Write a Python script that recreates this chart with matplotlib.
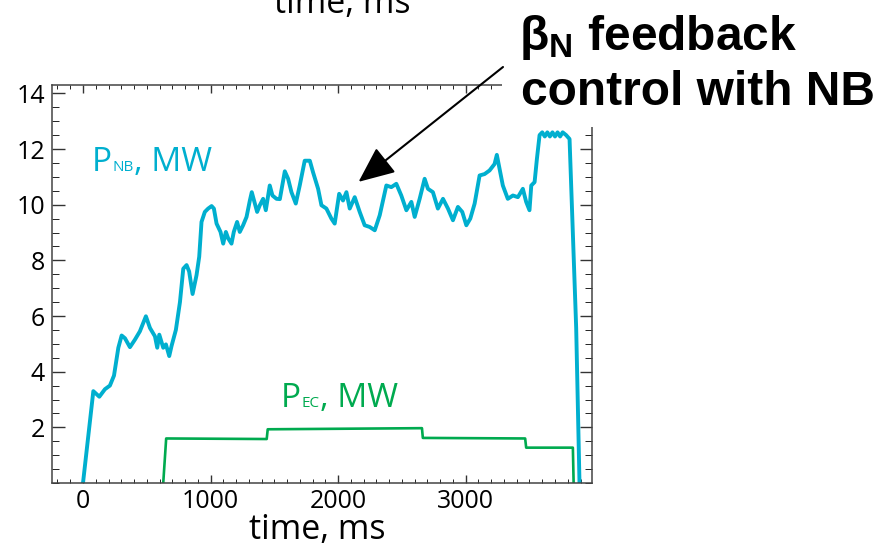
import matplotlib
matplotlib.use('agg')
import matplotlib.pyplot as plt
from matplotlib.patches import Rectangle, ConnectionPatch
from matplotlib.ticker import MultipleLocator

plt.rcParams['font.family'] = ['Open Sans', 'DejaVu Sans']
plt.rcParams['mathtext.fontset'] = 'custom'
plt.rcParams['mathtext.bf'] = 'Liberation Sans:bold'
plt.rcParams['mathtext.rm'] = 'Liberation Sans:bold'

# P_NB trace (time in ms, power in MW)
nb_time = [0, 81, 128, 172, 211, 243, 277, 303, 329, 368, 407, 446, 472, 493,
           525, 564, 582, 598, 629, 650, 676, 694, 728, 760, 786, 812, 832,
           859, 890, 911, 929, 955, 981, 1008, 1026, 1047, 1078, 1099, 1120,
           1138, 1164, 1182, 1208, 1229, 1255, 1282, 1308, 1323, 1347, 1365,
           1386, 1412, 1433, 1464, 1485, 1517, 1543, 1582, 1608, 1634, 1668,
           1699, 1738, 1778, 1803, 1843, 1869, 1908, 1947, 1973, 2008, 2038,
           2065, 2091, 2130, 2169, 2208, 2247, 2287, 2326, 2378, 2417, 2456,
           2495, 2535, 2574, 2600, 2639, 2678, 2704, 2743, 2782, 2822, 2861,
           2900, 2939, 2973, 3005, 3036, 3070, 3109, 3148, 3187, 3226, 3244,
           3265, 3291, 3330, 3370, 3409, 3448, 3474, 3500, 3514, 3540, 3558,
           3579, 3600, 3620, 3640, 3660, 3680, 3700, 3720, 3740, 3760, 3787,
           3814, 3866, 3892]
nb_power = [0.0, 3.3, 3.1, 3.37, 3.5, 3.86, 4.86, 5.3, 5.2, 4.88, 5.15, 5.45,
            5.75, 5.99, 5.57, 5.27, 4.86, 5.33, 4.86, 4.98, 4.56, 4.92, 5.5,
            6.5, 7.7, 7.83, 7.6, 6.79, 7.47, 8.13, 9.38, 9.74, 9.86, 9.95,
            9.86, 9.32, 9.02, 8.6, 9.02, 8.79, 8.6, 9.02, 9.38, 9.02, 9.26,
            9.56, 10.15, 10.45, 10.04, 9.74, 9.98, 10.21, 9.8, 10.69, 10.33,
            10.21, 10.2, 11.2, 10.93, 10.45, 10.04, 10.69, 11.58, 11.58, 11.17,
            10.57, 9.98, 9.86, 9.5, 9.32, 10.39, 10.15, 10.45, 9.86, 10.27,
            9.74, 9.26, 9.2, 9.08, 9.62, 10.69, 10.63, 10.75, 10.33, 9.8, 10.1,
            9.56, 10.21, 10.93, 10.57, 10.45, 9.86, 10.21, 9.86, 9.44, 9.92,
            9.74, 9.26, 9.5, 10.04, 11.05, 11.1, 11.23, 11.46, 11.79, 11.29,
            10.69, 10.21, 10.33, 10.27, 10.57, 10.1, 9.8, 10.69, 10.81, 11.64,
            12.5, 12.6, 12.45, 12.6, 12.45, 12.6, 12.45, 12.6, 12.45, 12.6,
            12.5, 12.36, 5.57, 0.0]

# P_EC trace (step levels)
ec_time = [629, 652, 1440, 1448, 2657, 2664, 3466, 3474, 3840, 3846]
ec_power = [0.0, 1.6, 1.58, 1.93, 1.97, 1.62, 1.6, 1.27, 1.27, 0.0]

y_ticks = [2, 4, 6, 8, 10, 12, 14]
x_ticks = [0, 1000, 2000, 3000]

nb_color = '#00AFCF'
ec_color = '#00AA4F'

fig = plt.figure(figsize=(8.95, 5.45), dpi=100)
ax = fig.add_axes([52 / 895, 62 / 545, 540 / 895, 398 / 545])

ax.plot(nb_time, nb_power, color=nb_color, lw=2.8, solid_joinstyle='round')
ax.plot(ec_time, ec_power, color=ec_color, lw=1.9)

ax.set_xlim(-243, 3990)
ax.set_ylim(0, 14.3)
ax.set_xticks(x_ticks)
ax.set_yticks(y_ticks)
ax.xaxis.set_minor_locator(MultipleLocator(100))
ax.yaxis.set_minor_locator(MultipleLocator(0.5))
ax.tick_params(direction='in', top=True, right=True, labelsize=18,
               colors='#333333', labelcolor='black', width=1)
ax.tick_params(axis='x', which='major', length=6, pad=4)
ax.tick_params(axis='x', which='minor', length=3, top=True, direction='in')
ax.tick_params(axis='y', which='major', length=9, pad=5)
ax.tick_params(axis='y', which='minor', length=5, right=True, direction='in')
for s in ax.spines.values():
    s.set_color('#444444')
    s.set_linewidth(1.1)

# axis label and the cut-off label from the panel above
fig.text(317 / 895, 1 - 539 / 545, 'time, ms', fontsize=24.5, ha='center',
         va='baseline')
fig.text(342 / 895, 1 - 13 / 545, 'time, ms', fontsize=24.5, ha='center',
         va='baseline')


def label(x, y, main, sub, tail, color):
    # P with a small subscript sitting on the baseline
    fig.canvas.draw()
    r = fig.canvas.get_renderer()
    t1 = fig.text(x / 895, 1 - y / 545, main, fontsize=24, color=color,
                  va='baseline')
    x2 = t1.get_window_extent(r).x1 + 1
    t2 = fig.text(x2 / 895, 1 - y / 545, sub, fontsize=11, color=color,
                  va='baseline')
    x3 = t2.get_window_extent(r).x1
    fig.text(x3 / 895, 1 - y / 545, tail, fontsize=24, color=color,
             va='baseline')


label(92, 171, 'P', 'NB', ', MW', nb_color)
label(281, 407, 'P', 'EC', ', MW', ec_color)

# white block behind the annotation text hides the frame corner
fig.patches.append(Rectangle((502 / 895, 1 - 127 / 545), 393 / 895, 127 / 545,
                             transform=fig.transFigure, fc='white', ec='none',
                             zorder=5))
fig.text(519 / 895, 1 - 50 / 545, r'$\mathbf{β_N}$ feedback',
         family='Liberation Sans', fontweight='bold', fontsize=34.5,
         va='baseline', zorder=6)
fig.text(521 / 895, 1 - 105 / 545, 'control with NB',
         family='Liberation Sans', fontweight='bold', fontsize=34.5,
         va='baseline', zorder=6)

arrow = ConnectionPatch(xyA=(503 / 895, 1 - 67 / 545), coordsA=fig.transFigure,
                        xyB=(2160, 10.82), coordsB=ax.transData,
                        arrowstyle='-|>,head_length=1.6,head_width=0.7',
                        mutation_scale=14, lw=1.5, color='black', zorder=7)
fig.add_artist(arrow)

plt.savefig('out.png', dpi=100)
